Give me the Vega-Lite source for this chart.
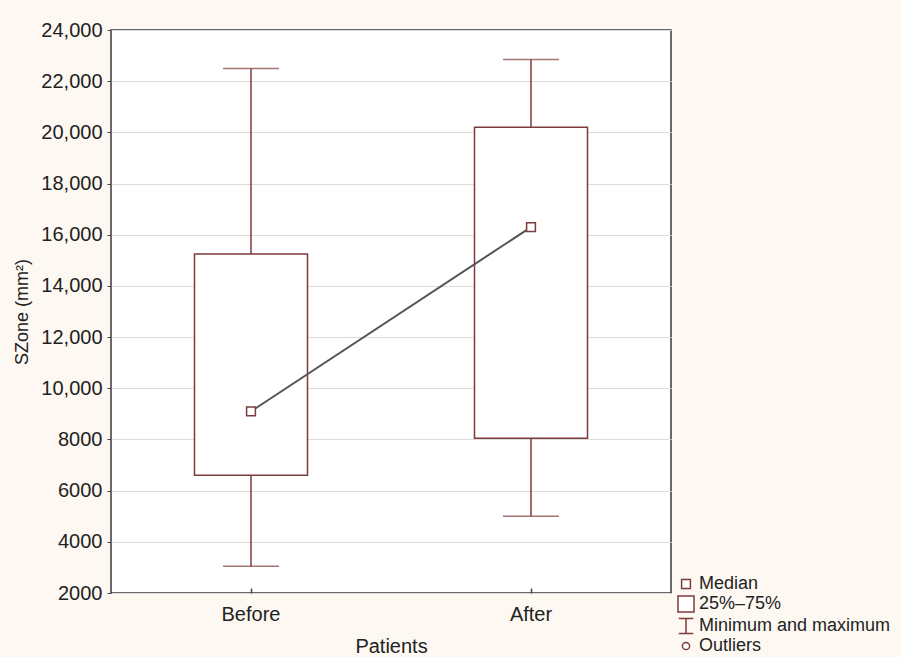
{
  "$schema": "https://vega.github.io/schema/vega-lite/v6.json",
  "width": 560,
  "height": 563,
  "autosize": {"type": "none"},
  "padding": {"left": 111, "top": 30, "right": 230, "bottom": 64},
  "background": "#fdf9f2",
  "config": {
    "view": {"fill": "white", "stroke": "#3a3a3a", "strokeWidth": 1.5},
    "font": "Liberation Sans",
    "axis": {"labelFont": "Liberation Sans", "titleFont": "Liberation Sans", "labelColor": "#222", "titleColor": "#222", "titleFontWeight": "normal"}
  },
  "data": {
    "values": [
      {"group": "Before", "min": 3050, "q1": 6600, "median": 9100, "q3": 15250, "max": 22500},
      {"group": "After", "min": 5000, "q1": 8050, "median": 16300, "q3": 20200, "max": 22850}
    ]
  },
  "encoding": {
    "x": {
      "field": "group", "type": "nominal", "sort": ["Before", "After"],
      "scale": {"paddingInner": 0, "paddingOuter": 0},
      "axis": {"title": "Patients", "labelAngle": 0, "labelFontSize": 20, "titleFontSize": 20, "labelPadding": 16, "tickSize": -5, "tickColor": "#444", "tickWidth": 1.5, "domain": false, "titlePadding": 12, "grid": false}
    }
  },
  "layer": [
    {
      "mark": {"type": "rule", "color": "#7d3b3b", "strokeWidth": 1.5},
      "encoding": {
        "y": {"field": "min", "type": "quantitative", "scale": {"domain": [2000, 24000], "nice": false, "zero": false},
          "axis": {"title": "SZone (mm²)", "values": [2000,4000,6000,8000,10000,12000,14000,16000,18000,20000,22000,24000],
            "labelExpr": "datum.value >= 10000 ? format(datum.value, ',') : format(datum.value, 'd')",
            "labelFontSize": 20, "titleFontSize": 18, "tickSize": 4, "tickColor": "#444", "labelPadding": 5, "domain": false,
            "grid": true, "gridColor": "#dcdcdc", "gridWidth": 1, "titlePadding": 9}},
        "y2": {"field": "q1"}
      }
    },
    {
      "mark": {"type": "rule", "color": "#7d3b3b", "strokeWidth": 1.5},
      "encoding": {"y": {"field": "q3", "type": "quantitative"}, "y2": {"field": "max"}}
    },
    {
      "mark": {"type": "tick", "color": "#7d3b3b", "size": 56, "thickness": 1.5},
      "encoding": {"y": {"field": "min", "type": "quantitative"}}
    },
    {
      "mark": {"type": "tick", "color": "#7d3b3b", "size": 56, "thickness": 1.5},
      "encoding": {"y": {"field": "max", "type": "quantitative"}}
    },
    {
      "mark": {"type": "bar", "fill": "white", "stroke": "#7d3b3b", "strokeWidth": 1.5, "size": 113},
      "encoding": {"y": {"field": "q1", "type": "quantitative"}, "y2": {"field": "q3"}}
    },
    {
      "mark": {"type": "line", "color": "#555555", "strokeWidth": 2},
      "encoding": {"y": {"field": "median", "type": "quantitative"}}
    },
    {
      "mark": {"type": "point", "filled": true, "fill": "white", "stroke": "#7d3b3b", "strokeWidth": 1.5, "size": 256, "opacity": 1},
      "encoding": {
        "y": {"field": "median", "type": "quantitative"},
        "shape": {
          "datum": "Median", "type": "nominal",
          "scale": {
            "domain": ["Median", "25%–75%", "Minimum and maximum", "Outliers"],
            "range": [
              "M-0.55,-0.55H0.55V0.55H-0.55Z",
              "M-1,-1H1V1H-1Z",
              "M-0.9,-0.95H0.9M0,-0.95V0.95M-0.9,0.95H0.9",
              "M-0.45,0A0.45,0.45 0 1,0 0.45,0A0.45,0.45 0 1,0 -0.45,0Z"
            ]
          },
          "legend": {
            "title": null, "orient": "none", "legendX": 566, "legendY": 545,
            "symbolSize": 256, "symbolStrokeWidth": 1.5,
            "labelFontSize": 18, "labelFont": "Liberation Sans", "labelColor": "#222", "labelLimit": 0, "rowPadding": 0, "labelOffset": 4, "symbolOffset": 0,
            "encode": {"symbols": {"update": {"stroke": {"value": "#7d3b3b"}, "fill": {"value": "transparent"}, "opacity": {"value": 1}, "strokeWidth": {"value": 1.5}}}}
          }
        }
      }
    }
  ]
}
